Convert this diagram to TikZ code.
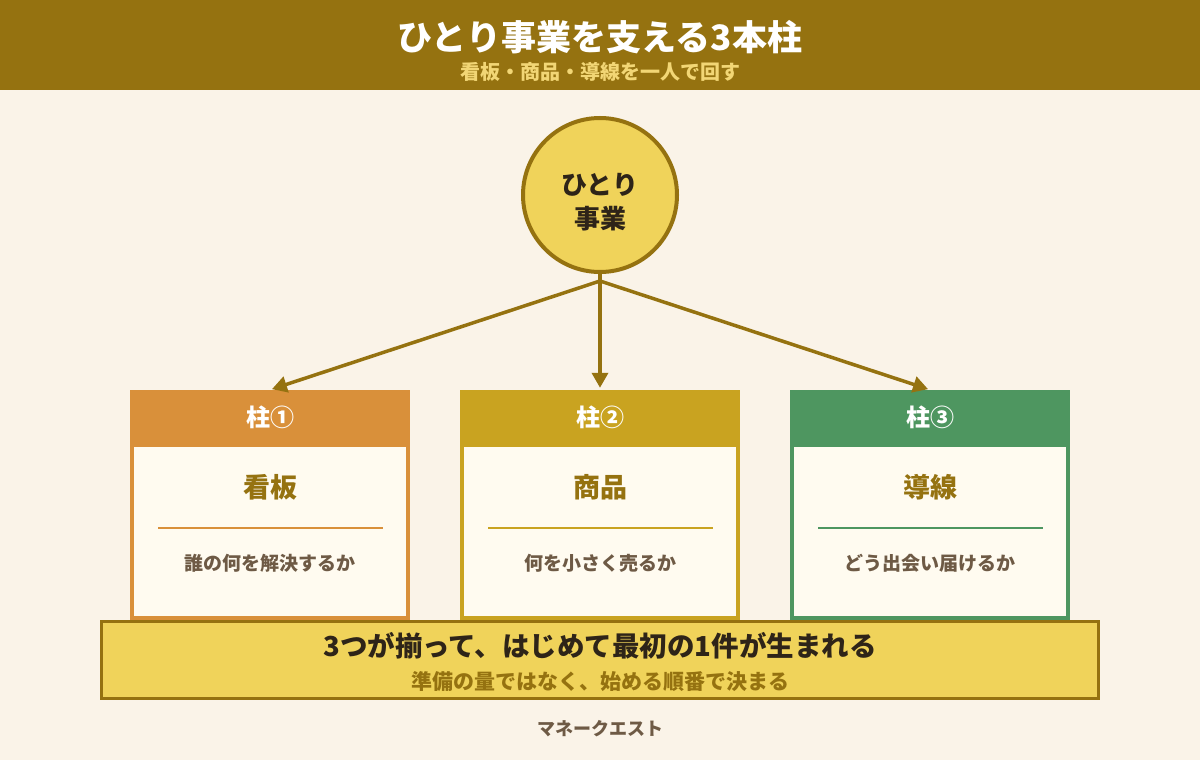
\documentclass[tikz,border=0pt]{standalone}
\usepackage{fontspec}
\setmainfont{Noto Sans CJK JP}
\usetikzlibrary{arrows.meta}

\definecolor{bgcream}{HTML}{FAF3E8}
\definecolor{gold}{HTML}{957210}
\definecolor{lightgold}{HTML}{F0D35A}
\definecolor{paleyellow}{HTML}{F2D675}
\definecolor{bodycream}{HTML}{FFFBF0}
\definecolor{inkdark}{HTML}{2E2418}
\definecolor{inkbrown}{HTML}{6E5A45}
\definecolor{pillarA}{HTML}{D9903A}
\definecolor{pillarB}{HTML}{C9A320}
\definecolor{pillarC}{HTML}{4E9660}

\newcommand{\fsz}[1]{\fontsize{#1}{#1}\selectfont}

\tikzset{
  hubcircle/.style={circle, draw=gold, line width=4pt, fill=lightgold,
    minimum size=154pt, inner sep=0pt},
  hubtext/.style={align=center, text=inkdark, font=\fsz{26}\bfseries},
  pillarbox/.style={rectangle, fill=#1, minimum width=280pt,
    minimum height=230pt, inner sep=0pt},
  pillarbody/.style={rectangle, fill=bodycream, minimum width=272pt,
    minimum height=169pt, inner sep=0pt},
  headtext/.style={text=white, font=\fsz{24}\bfseries},
  termtext/.style={text=gold, font=\fsz{27}\bfseries},
  desctext/.style={text=inkbrown, font=\fsz{19}\bfseries},
  sepline/.style={draw=#1, line width=1.8pt},
  branch/.style={draw=gold, line width=3.5pt,
    -{Triangle[length=15pt,width=16pt]}, shorten >=2pt}
}

\begin{document}
\begin{tikzpicture}[x=1pt,y=-1pt]
\useasboundingbox (0,0) rectangle (1200,760);
\fill[bgcream] (0,0) rectangle (1200,760);

% header band
\fill[gold] (0,0) rectangle (1200,90);
\node[text=white, font=\fsz{35}\bfseries] (title) at (600,37) {ひとり事業を支える3本柱};
\node[text=paleyellow, font=\fsz{20}\bfseries] (subtitle) at (600,72) {看板・商品・導線を一人で回す};

% hub
\node[hubcircle] (hub) at (600,195) {};
\node[hubtext] (hublabel) at (600,202) {ひとり\\[8pt]事業};
\coordinate (fork) at (600,281);

% pillars
\foreach \cx/\col/\num/\term/\desc/\id in {
  270/pillarA/①/看板/誰の何を解決するか/1,
  600/pillarB/②/商品/何を小さく売るか/2,
  930/pillarC/③/導線/どう出会い届けるか/3}{
  \node[pillarbox=\col] (p\id) at (\cx,505) {};
  \node[pillarbody] (b\id) at (\cx,531.5) {};
  \node[headtext] (h\id) at (\cx,417) {柱\num};
  \node[termtext] (t\id) at (\cx,487) {\term};
  \draw[sepline=\col] (\cx-112,528) -- (\cx+113,528);
  \node[desctext] (d\id) at (\cx,563) {\desc};
}

% connectors
\draw[gold, line width=3.5pt] (hub.south) -- (fork);
\foreach \id in {1,2,3}
  \draw[branch] (fork) -- (p\id.north);

% bottom banner
\node[rectangle, draw=gold, line width=3pt, fill=lightgold,
  minimum width=997pt, minimum height=77pt, inner sep=0pt] (banner) at (600,660) {};
\node[text=inkdark, font=\fsz{27.5}\bfseries] (msg) at (600,646) {3つが揃って、はじめて最初の1件が生まれる};
\node[text=gold, font=\fsz{21}\bfseries] (submsg) at (600,682) {準備の量ではなく、始める順番で決まる};

% footer
\node[text=inkbrown, font=\fsz{18}\bfseries] (brand) at (600,729) {マネークエスト};
\end{tikzpicture}
\end{document}
